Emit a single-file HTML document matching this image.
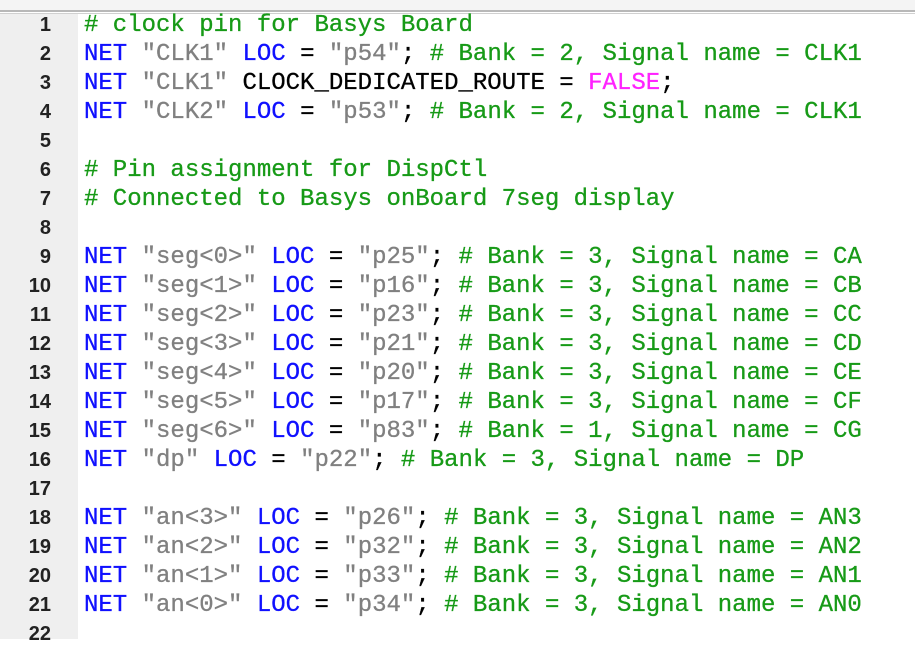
<!DOCTYPE html>
<html><head><meta charset="utf-8"><style>
html,body{margin:0;padding:0;background:#fff;width:915px;height:639px;overflow:hidden}
.top{position:absolute;left:0;top:0;width:915px;height:10px;background:#f4f4f4}
.l1{position:absolute;left:0;top:10px;width:915px;height:2px;background:#b8b8b8}
.l2{position:absolute;left:0;top:13px;width:915px;height:1px;background:#d0d0d0}
.gut{position:absolute;left:0;top:14px;width:78px;height:625px;background:#efefef}
.nums{position:absolute;left:0;top:11px;width:51px;text-align:right;font:bold 20px/29px "Liberation Sans",sans-serif;color:#222}
.code{position:absolute;left:84px;top:11px;font:24px/29px "Liberation Mono",monospace;color:#000;white-space:pre;-webkit-text-stroke:0.3px}
.k{color:#1010ff}.s{color:#808080}.c{color:#179a17}.m{color:#ff22ff}
</style></head><body>
<div class="top"></div><div class="l1"></div><div class="l2"></div><div class="gut"></div>
<div class="nums">1<br>2<br>3<br>4<br>5<br>6<br>7<br>8<br>9<br>10<br>11<br>12<br>13<br>14<br>15<br>16<br>17<br>18<br>19<br>20<br>21<br>22</div>
<div class="code"><span class="c"># clock pin for Basys Board</span>
<span class="k">NET</span> <span class="s">"CLK1"</span> <span class="k">LOC</span> = <span class="s">"p54"</span>; <span class="c"># Bank = 2, Signal name = CLK1</span>
<span class="k">NET</span> <span class="s">"CLK1"</span> CLOCK_DEDICATED_ROUTE = <span class="m">FALSE</span>;
<span class="k">NET</span> <span class="s">"CLK2"</span> <span class="k">LOC</span> = <span class="s">"p53"</span>; <span class="c"># Bank = 2, Signal name = CLK1</span>

<span class="c"># Pin assignment for DispCtl</span>
<span class="c"># Connected to Basys onBoard 7seg display</span>

<span class="k">NET</span> <span class="s">"seg&lt;0&gt;"</span> <span class="k">LOC</span> = <span class="s">"p25"</span>; <span class="c"># Bank = 3, Signal name = CA</span>
<span class="k">NET</span> <span class="s">"seg&lt;1&gt;"</span> <span class="k">LOC</span> = <span class="s">"p16"</span>; <span class="c"># Bank = 3, Signal name = CB</span>
<span class="k">NET</span> <span class="s">"seg&lt;2&gt;"</span> <span class="k">LOC</span> = <span class="s">"p23"</span>; <span class="c"># Bank = 3, Signal name = CC</span>
<span class="k">NET</span> <span class="s">"seg&lt;3&gt;"</span> <span class="k">LOC</span> = <span class="s">"p21"</span>; <span class="c"># Bank = 3, Signal name = CD</span>
<span class="k">NET</span> <span class="s">"seg&lt;4&gt;"</span> <span class="k">LOC</span> = <span class="s">"p20"</span>; <span class="c"># Bank = 3, Signal name = CE</span>
<span class="k">NET</span> <span class="s">"seg&lt;5&gt;"</span> <span class="k">LOC</span> = <span class="s">"p17"</span>; <span class="c"># Bank = 3, Signal name = CF</span>
<span class="k">NET</span> <span class="s">"seg&lt;6&gt;"</span> <span class="k">LOC</span> = <span class="s">"p83"</span>; <span class="c"># Bank = 1, Signal name = CG</span>
<span class="k">NET</span> <span class="s">"dp"</span> <span class="k">LOC</span> = <span class="s">"p22"</span>; <span class="c"># Bank = 3, Signal name = DP</span>

<span class="k">NET</span> <span class="s">"an&lt;3&gt;"</span> <span class="k">LOC</span> = <span class="s">"p26"</span>; <span class="c"># Bank = 3, Signal name = AN3</span>
<span class="k">NET</span> <span class="s">"an&lt;2&gt;"</span> <span class="k">LOC</span> = <span class="s">"p32"</span>; <span class="c"># Bank = 3, Signal name = AN2</span>
<span class="k">NET</span> <span class="s">"an&lt;1&gt;"</span> <span class="k">LOC</span> = <span class="s">"p33"</span>; <span class="c"># Bank = 3, Signal name = AN1</span>
<span class="k">NET</span> <span class="s">"an&lt;0&gt;"</span> <span class="k">LOC</span> = <span class="s">"p34"</span>; <span class="c"># Bank = 3, Signal name = AN0</span>
</div>
</body></html>
